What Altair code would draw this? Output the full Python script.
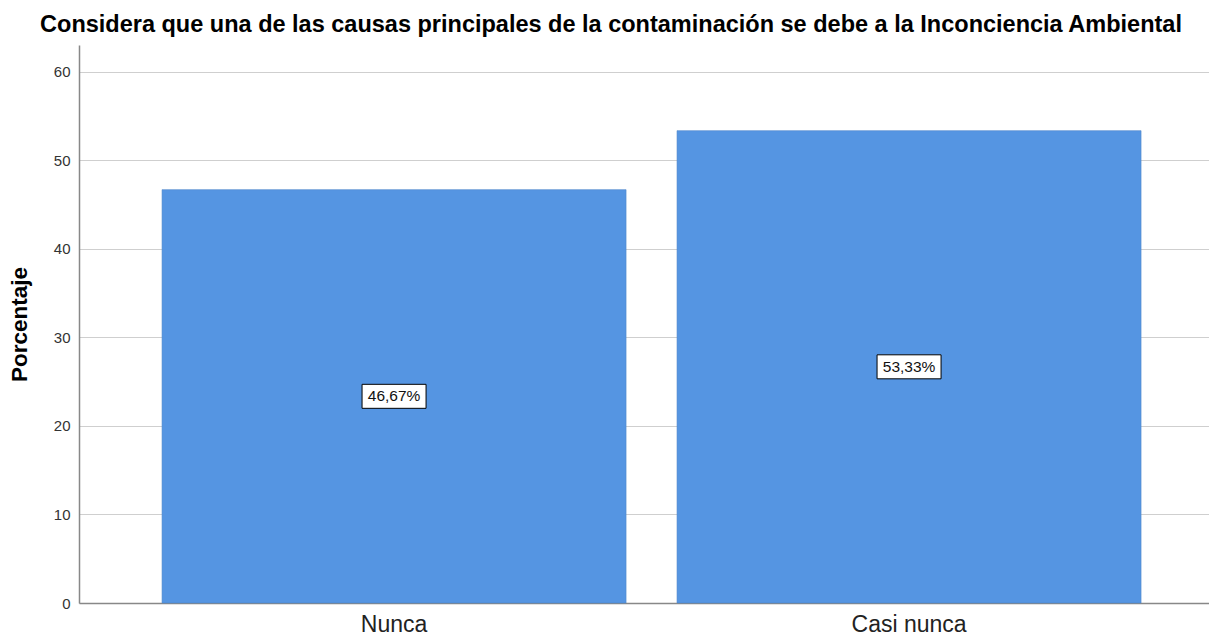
import altair as alt
import pandas as pd

categories = ["Nunca", "Casi nunca"]
values = [46.67, 53.33]
labels = ["46,67%", "53,33%"]

df = pd.DataFrame({"cat": categories, "val": values, "lab": labels})

title_text = "Considera que una de las causas principales de la contaminación se debe a la Inconciencia Ambiental"
FONT = "Liberation Sans"

xscale = alt.Scale(domain=categories, paddingInner=0.099, paddingOuter=0.1466, align=0.55)
yscale = alt.Scale(domain=[0, 63], nice=False, zero=True)

base = alt.Chart(df)

bars = base.mark_bar(color="#5595e2", stroke="#4f86c9", strokeWidth=0.6).encode(
    x=alt.X("cat:N", scale=xscale, sort=categories,
            axis=alt.Axis(title=None, labelAngle=0, labelFontSize=23, labelColor="#222222",
                          labelFont=FONT, ticks=False, labelPadding=10,
                          domainColor="#888888", domainWidth=1.5)),
    y=alt.Y("val:Q", scale=yscale,
            axis=alt.Axis(title="Porcentaje", titleFontSize=22.5, titleFontWeight="bold",
                          titleFont=FONT, titleColor="#000000", titlePadding=22,
                          values=[0, 10, 20, 30, 40, 50, 60], labelFontSize=15,
                          labelFont=FONT, labelColor="#333333", ticks=False, labelPadding=9,
                          gridColor="#cfcfcf", gridWidth=1.2,
                          domainColor="#888888", domainWidth=1.5)),
)

boxes = base.transform_calculate(mid="datum.val / 2").mark_point(
    shape="M-1,-0.375 L1,-0.375 L1,0.375 L-1,0.375 Z",
    size=4096, filled=True, fill="white", stroke="black", strokeWidth=1, opacity=1,
).encode(
    x=alt.X("cat:N", scale=xscale, sort=categories),
    y=alt.Y("mid:Q", scale=yscale),
)

texts = base.transform_calculate(mid="datum.val / 2").mark_text(
    font=FONT, fontSize=15.5, color="#111111", baseline="middle", align="center"
).encode(
    x=alt.X("cat:N", scale=xscale, sort=categories),
    y=alt.Y("mid:Q", scale=yscale),
    text="lab:N",
)

chart = (bars + boxes + texts).properties(
    width=1130, height=558,
    title=alt.TitleParams(text=title_text, font=FONT, fontSize=23.5, fontWeight="bold",
                          color="#000000", anchor="middle", offset=9, dx=-33),
    autosize=alt.AutoSizeParams(type="none"),
    padding={"left": 71, "top": 37, "right": 0, "bottom": 36},
).configure_view(stroke=None)

chart.save("out.html", embed_options={"renderer": "svg", "actions": False})
